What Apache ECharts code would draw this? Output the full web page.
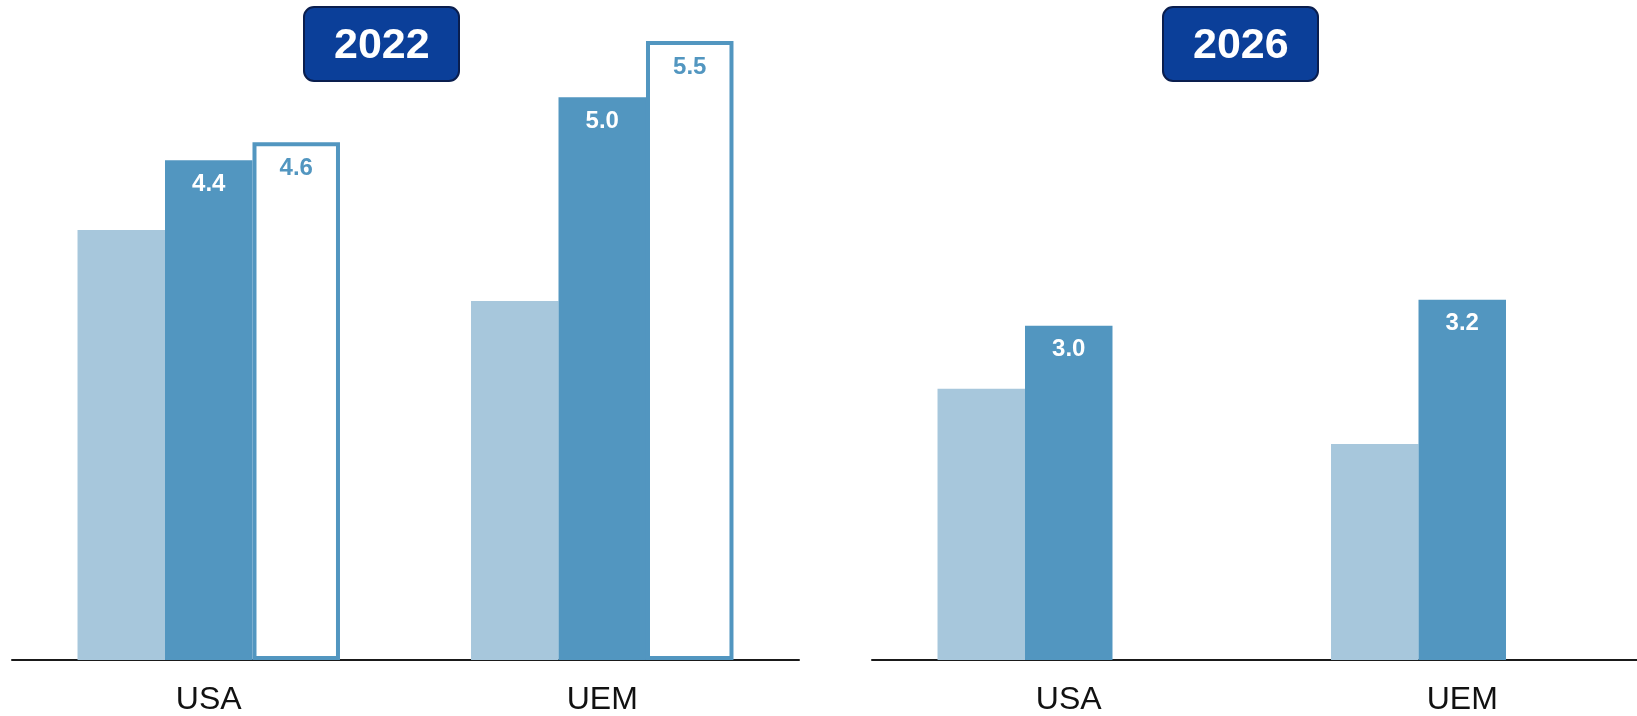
<!DOCTYPE html>
<html>
<head>
<meta charset="utf-8">
<script src="https://cdn.jsdelivr.net/npm/echarts@6/dist/echarts.min.js"></script>
<style>
  html, body { margin: 0; padding: 0; background: #ffffff; overflow: hidden; }
  #chart { width: 1660px; height: 716px; }
</style>
</head>
<body>
<div id="chart"></div>
<script>
// ---- data ----
const categories = ['USA', 'UEM'];
const panelTitles = ['2022', '2026'];
const prev2022 = [3.82, 3.19];
const fcst2022 = [4.44, 5.0];
const new2022 = [4.6, 5.5];
const prev2026 = [2.41, 1.92];
const fcst2026 = [2.97, 3.2];
const new2026 = [null, null];

// ---- styles ----
const LIGHT = '#a7c7dc';
const DARK = '#5296c0';
const FONT = 'Liberation Sans, Arial, Helvetica, sans-serif';

const chart = echarts.init(document.getElementById('chart'));

const panels = [
  { title: panelTitles[0], prev: prev2022, fcst: fcst2022, nw: new2022, grid: { left: 12, width: 787, top: 41, bottom: 52 }, box: 304 },
  { title: panelTitles[1], prev: prev2026, fcst: fcst2026, nw: new2026, grid: { left: 872, width: 787, top: 41, bottom: 52 }, box: 1163 }
];

const option = {
  backgroundColor: '#ffffff',
  animation: false,
  title: panels.map(p => ({
    text: p.title,
    left: p.box,
    top: 7,
    padding: [17, 30, 13, 30],
    backgroundColor: '#0b3f99',
    borderColor: '#0a1e4e',
    borderWidth: 2,
    borderRadius: 10,
    textStyle: { color: '#ffffff', fontSize: 43, fontWeight: 'bold', fontFamily: FONT, lineHeight: 44 }
  })),
  grid: panels.map(p => p.grid),
  xAxis: panels.map((p, i) => ({
    type: 'category',
    gridIndex: i,
    data: categories,
    axisTick: { show: false },
    axisLine: { show: true, lineStyle: { color: '#1a1a1a', width: 2 } },
    axisLabel: { color: '#111111', fontSize: 32, fontFamily: FONT, margin: 24 }
  })),
  yAxis: panels.map((p, i) => ({
    type: 'value',
    gridIndex: i,
    min: 0,
    max: 5.5,
    show: false,
    splitLine: { show: false }
  })),
  series: []
};

panels.forEach((p, i) => {
  option.series.push({
    type: 'bar', xAxisIndex: i, yAxisIndex: i,
    data: p.prev,
    barGap: '0%', barCategoryGap: '33.3%',
    itemStyle: { color: LIGHT }
  });
  option.series.push({
    type: 'bar', xAxisIndex: i, yAxisIndex: i,
    data: p.fcst,
    barGap: '0%', barCategoryGap: '33.3%',
    itemStyle: { color: DARK },
    label: {
      show: true, position: 'insideTop', distance: 12,
      color: '#ffffff', fontSize: 24, fontWeight: 'bold', fontFamily: FONT,
      formatter: d => d.value.toFixed(1)
    }
  });
  option.series.push({
    type: 'bar', xAxisIndex: i, yAxisIndex: i,
    data: p.nw,
    barGap: '0%', barCategoryGap: '33.3%',
    itemStyle: { color: '#ffffff', borderColor: DARK, borderWidth: 4 },
    label: {
      show: true, position: 'insideTop', distance: 14,
      color: DARK, fontSize: 24, fontWeight: 'bold', fontFamily: FONT,
      formatter: d => (d.value == null ? '' : Number(d.value).toFixed(1))
    }
  });
});

chart.setOption(option);
</script>
</body>
</html>
